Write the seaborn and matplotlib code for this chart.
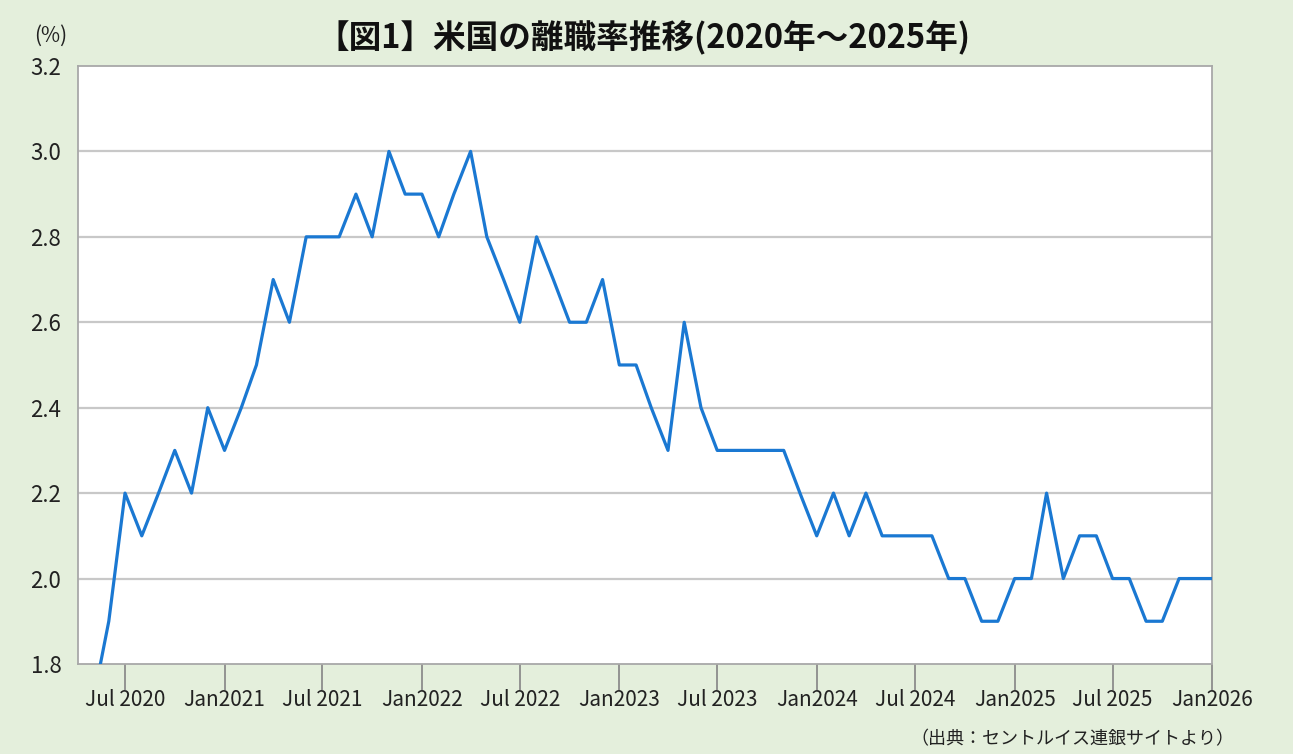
import pandas as pd
import seaborn as sns
import matplotlib.pyplot as plt

# monthly quit rate (%), May 2020 - Jan 2026
months = pd.date_range("2020-05-01", "2026-01-01", freq="MS")
quit_rate = [
    1.7, 1.9, 2.2, 2.1, 2.2, 2.3, 2.2, 2.4,
    2.3, 2.4, 2.5, 2.7, 2.6, 2.8, 2.8, 2.8, 2.9, 2.8, 3.0, 2.9,
    2.9, 2.8, 2.9, 3.0, 2.8, 2.7, 2.6, 2.8, 2.7, 2.6, 2.6, 2.7,
    2.5, 2.5, 2.4, 2.3, 2.6, 2.4, 2.3, 2.3, 2.3, 2.3, 2.3, 2.2,
    2.1, 2.2, 2.1, 2.2, 2.1, 2.1, 2.1, 2.1, 2.0, 2.0, 1.9, 1.9,
    2.0, 2.0, 2.2, 2.0, 2.1, 2.1, 2.0, 2.0, 1.9, 1.9, 2.0, 2.0,
    2.0,
]
tick_dates = pd.to_datetime([
    "2020-07-01", "2021-01-01", "2021-07-01", "2022-01-01", "2022-07-01",
    "2023-01-01", "2023-07-01", "2024-01-01", "2024-07-01", "2025-01-01",
    "2025-07-01", "2026-01-01",
])
tick_labels = ["Jul 2020", "Jan2021", "Jul 2021", "Jan2022", "Jul 2022", "Jan2023",
               "Jul 2023", "Jan2024", "Jul 2024", "Jan2025", "Jul 2025", "Jan2026"]
y_ticks = [1.8, 2.0, 2.2, 2.4, 2.6, 2.8, 3.0, 3.2]

title = "【図1】米国の離職率推移(2020年～2025年)"
source = "（出典：セントルイス連銀サイトより）"

df = pd.DataFrame({"month": months, "rate": quit_rate})

sns.set_style("white")
plt.rcParams["font.family"] = ["Noto Sans CJK JP", "DejaVu Sans"]

bg = "#e4efdc"
grid_c = "#c8c8c8"
spine_c = "#a8a8a8"

fig = plt.figure(figsize=(12.93, 7.54), dpi=100, facecolor=bg)
ax = fig.add_axes([0.0603, 0.1194, 0.8771, 0.7931])
ax.set_facecolor("white")

for y in y_ticks[1:-1]:
    ax.axhline(y, color=grid_c, lw=1.6, zorder=1)

sns.lineplot(data=df, x="month", y="rate", ax=ax, color="#1a78d2", lw=2.3, zorder=3)

ax.set_xlim(pd.Timestamp("2020-04-05"), pd.Timestamp("2026-01-01"))
ax.set_ylim(1.8, 3.2)
ax.set_yticks(y_ticks)
ax.set_yticklabels([f"{v:.1f}" for v in y_ticks], fontsize=16, color="#222222")
ax.set_xticks(tick_dates)
ax.set_xticklabels(tick_labels, fontsize=15, color="#222222")
ax.tick_params(axis="y", left=False, length=0, pad=12)
ax.tick_params(axis="x", bottom=True, direction="out", length=19, width=1.3,
               color="#8c8c8c", pad=-1)
ax.set_xlabel("")
ax.set_ylabel("")

for s in ax.spines.values():
    s.set_color(spine_c)
    s.set_linewidth(1.3)

fig.text(0.039, 0.953, "(%)", fontsize=15, ha="center", va="center", color="#222222")
fig.text(0.498, 0.950, title, fontsize=23.5, fontweight="bold", ha="center", va="center",
         color="#111111")
fig.text(0.955, 0.008, source, fontsize=13, ha="right", va="bottom", color="#222222")

fig.savefig("out.png", dpi=100, facecolor=bg)
